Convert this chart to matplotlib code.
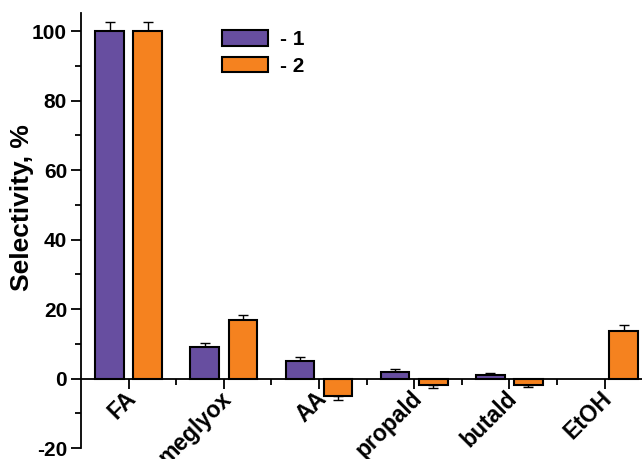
import numpy as np
import matplotlib
matplotlib.use("Agg")
import matplotlib.pyplot as plt
import matplotlib.transforms as mtransforms
from matplotlib.patches import Patch
from matplotlib.ticker import FixedLocator

plt.rcParams['font.family'] = ['Liberation Sans', 'DejaVu Sans']
plt.rcParams['font.weight'] = 'bold'
plt.rcParams['axes.unicode_minus'] = False

categories = ["FA", "meglyox", "AA", "propald", "butald", "EtOH"]
series1 = [100, 9.1, 5.1, 1.9, 1.1, np.nan]
series2 = [100, 16.9, -5.1, -1.8, -2.0, 13.8]
err1 = [2.5, 1.2, 1.2, 0.7, 0.5, np.nan]
err2 = [2.5, 1.3, 1.1, 0.9, 0.4, 1.5]
legend_labels = ["- 1", "- 2"]
yticks = [-20, 0, 20, 40, 60, 80, 100]

purple = "#674EA0"
orange = "#F5821F"

W, H = 642, 459
fig = plt.figure(figsize=(W / 100, H / 100), dpi=100)
ax = fig.add_axes([81 / W, (H - 448) / H, (W - 81) / W, (448 - 13) / H])

x = np.arange(len(categories))
off = 0.2
bw = 0.30
ax.bar(x - off, series1, bw, color=purple, edgecolor="black", linewidth=1.5, zorder=3)
ax.bar(x + off, series2, bw, color=orange, edgecolor="black", linewidth=1.5, zorder=3)

def err_dir(vals, errs):
    lo, hi = [], []
    for v, e in zip(vals, errs):
        if np.isnan(v):
            lo.append(0); hi.append(0)
        elif v >= 0:
            lo.append(0); hi.append(e)
        else:
            lo.append(e); hi.append(0)
    return np.array([lo, hi])

ax.errorbar(x - off, series1, yerr=err_dir(series1, err1), fmt="none", ecolor="black",
            elinewidth=1.0, capsize=3.5, capthick=1.0, zorder=2)
ax.errorbar(x + off, series2, yerr=err_dir(series2, err2), fmt="none", ecolor="black",
            elinewidth=1.0, capsize=3.5, capthick=1.0, zorder=2)

ax.set_xlim(-0.5, -0.5 + (W - 81) / 95.2)
ax.set_ylim(-20, 105.2)

for s in ["top", "right"]:
    ax.spines[s].set_visible(False)
ax.spines["bottom"].set_position(("data", 0))
ax.spines["left"].set_linewidth(1.3)
ax.spines["bottom"].set_linewidth(1.3)

ax.set_yticks(yticks)
ax.yaxis.set_minor_locator(FixedLocator([-10, 10, 30, 50, 70, 90]))
ax.set_xticks(x)
ax.xaxis.set_minor_locator(FixedLocator(x[:-1] + 0.5))
ax.set_xticklabels(categories, rotation=45, ha="right", va="top", rotation_mode="anchor")
ax.tick_params(axis="both", which="major", direction="out", length=7, width=1.3,
               labelsize=15, pad=3)
ax.tick_params(axis="x", which="major", labelsize=16.5, pad=2)
ax.tick_params(axis="both", which="minor", direction="out", length=4, width=1.3)
shift = mtransforms.ScaledTranslation(-4 / 100, 4 / 100, fig.dpi_scale_trans)
for lab in ax.get_xticklabels():
    lab.set_fontweight("bold")
    lab.set_transform(lab.get_transform() + shift)
for lab in ax.get_yticklabels():
    lab.set_fontweight("bold")

ax.set_ylabel("Selectivity, %", fontsize=19, fontweight="bold")
ax.yaxis.set_label_coords(-0.084, 0.552)

handles = [Patch(facecolor=purple, edgecolor="black", linewidth=1.5),
           Patch(facecolor=orange, edgecolor="black", linewidth=1.5)]
fig.legend(handles, legend_labels, loc="upper left",
           bbox_to_anchor=(222 / W, 1 - 30 / H), frameon=False,
           prop={"size": 15, "weight": "bold"}, handlelength=2.2, handleheight=0.8,
           handletextpad=0.6, labelspacing=0.35, borderpad=0, borderaxespad=0)

fig.savefig("out.png", dpi=100)
